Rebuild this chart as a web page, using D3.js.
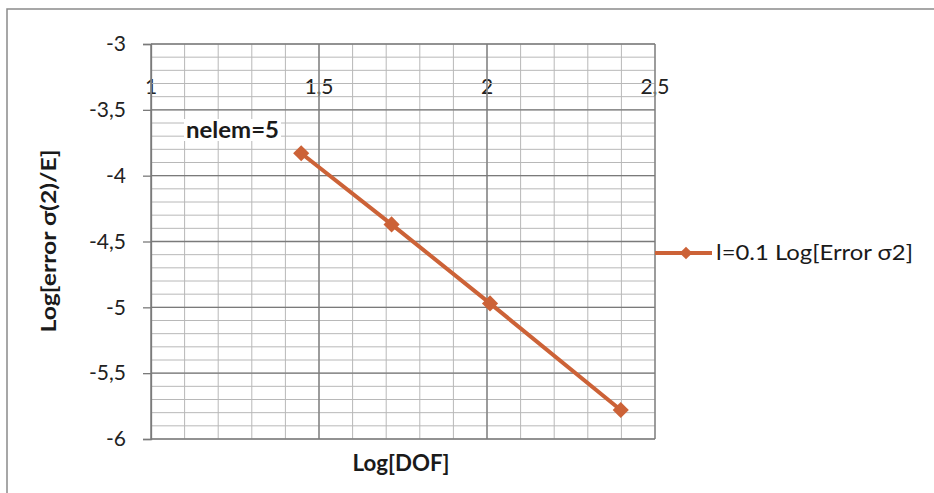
<!DOCTYPE html>
<html>
<head>
<meta charset="utf-8">
<script src="https://cdn.jsdelivr.net/npm/d3@7/dist/d3.min.js"></script>
<style>
  html, body { margin: 0; padding: 0; background: #fff; }
  svg { display: block; font-family: Lato, "Open Sans", sans-serif; }
</style>
</head>
<body>
<svg id="chart" width="934" height="493"></svg>
<script>
// Convergence data: log10 of degrees of freedom vs log10 of relative error
const logDOF = [1.447, 1.716, 2.009, 2.398];
const logError = [-3.83, -4.37, -4.97, -5.78];
const seriesName = "l=0.1 Log[Error σ2]";
const xTickValues = [1, 1.5, 2, 2.5];
const yTickValues = [-3, -3.5, -4, -4.5, -5, -5.5, -6];
const annotation = "nelem=5";

const fmt = v => String(v).replace(".", ",");

const svg = d3.select("#chart");
const x = d3.scaleLinear().domain([1, 2.5]).range([151, 655]);
const y = d3.scaleLinear().domain([-6, -3]).range([439, 44]);

const seriesColor = "#cc6237";
const textColor = "#1a1a1a";

// chart border
svg.append("rect")
  .attr("x", 7).attr("y", 9).attr("width", 960).attr("height", 520)
  .attr("fill", "#fff").attr("stroke", "#8a8a8a").attr("stroke-width", 1.5);

// x tick labels sit inside the plot, under the grid
svg.append("g").selectAll("text").data(xTickValues).join("text")
  .attr("x", d => x(d)).attr("y", 94)
  .attr("text-anchor", "middle")
  .attr("font-size", 21).attr("fill", "#222")
  .text(fmt);

// minor grid every 0.1
const minorX = d3.range(10, 26).map(v => v / 10);
const minorY = d3.range(-60, -29).map(v => v / 10);
const grid = svg.append("g");
grid.selectAll(".mx").data(minorX).join("line")
  .attr("x1", d => x(d)).attr("x2", d => x(d))
  .attr("y1", y(-3)).attr("y2", y(-6))
  .attr("stroke", "#b8b8b8").attr("stroke-width", 1);
grid.selectAll(".my").data(minorY).join("line")
  .attr("x1", x(1)).attr("x2", x(2.5))
  .attr("y1", d => y(d)).attr("y2", d => y(d))
  .attr("stroke", "#b8b8b8").attr("stroke-width", 1);

// major grid
grid.selectAll(".Mx").data(xTickValues).join("line")
  .attr("x1", d => x(d)).attr("x2", d => x(d))
  .attr("y1", y(-3)).attr("y2", y(-6))
  .attr("stroke", "#7a7a7a").attr("stroke-width", 1.3);
grid.selectAll(".My").data(yTickValues).join("line")
  .attr("x1", x(1)).attr("x2", x(2.5))
  .attr("y1", d => y(d)).attr("y2", d => y(d))
  .attr("stroke", "#7a7a7a").attr("stroke-width", 1.3);

// y axis with outward ticks
const yAxis = d3.axisLeft(y).tickValues(yTickValues).tickSize(8).tickPadding(17).tickFormat(fmt);
const ya = svg.append("g").attr("transform", `translate(${x(1)},0)`).call(yAxis);
ya.select(".domain").attr("stroke", "#7a7a7a").attr("stroke-width", 1.3);
ya.selectAll(".tick line").attr("stroke", "#7a7a7a").attr("stroke-width", 1.3);
ya.selectAll(".tick text").attr("font-size", 21).attr("fill", "#222")
  .attr("font-family", "Lato, 'Open Sans', sans-serif");

// annotation with a white backing
const ann = svg.append("g");
const annText = ann.append("text")
  .attr("x", 186).attr("y", 138)
  .attr("font-size", 22).attr("font-weight", "bold").attr("fill", textColor)
  .attr("textLength", 93).attr("lengthAdjust", "spacingAndGlyphs")
  .text(annotation);
const bb = annText.node().getBBox();
ann.insert("rect", "text")
  .attr("x", bb.x - 2).attr("y", bb.y + 3).attr("width", bb.width + 4).attr("height", bb.height - 5)
  .attr("fill", "#fff");

// series line and markers
const pts = logDOF.map((d, i) => [d, logError[i]]);
svg.append("path")
  .datum(pts)
  .attr("fill", "none")
  .attr("stroke", seriesColor).attr("stroke-width", 4)
  .attr("d", d3.line().x(d => x(d[0])).y(d => y(d[1])));
const diamond = d3.symbol().type(d3.symbolSquare).size(130);
svg.append("g").selectAll("path").data(pts).join("path")
  .attr("transform", d => `translate(${x(d[0])},${y(d[1])}) rotate(45)`)
  .attr("d", diamond)
  .attr("fill", seriesColor);

// axis titles
svg.append("text")
  .attr("x", 401).attr("y", 471)
  .attr("text-anchor", "middle")
  .attr("font-size", 22).attr("font-weight", "bold").attr("fill", textColor)
  .attr("textLength", 97).attr("lengthAdjust", "spacingAndGlyphs")
  .text("Log[DOF]");
svg.append("text")
  .attr("transform", "translate(56,241) rotate(-90)")
  .attr("text-anchor", "middle")
  .attr("font-size", 21).attr("font-weight", "bold").attr("fill", textColor)
  .attr("textLength", 183).attr("lengthAdjust", "spacingAndGlyphs")
  .text("Log[error σ(2)/E]");

// legend
const lg = svg.append("g");
lg.append("line")
  .attr("x1", 655).attr("x2", 712).attr("y1", 253).attr("y2", 253)
  .attr("stroke", seriesColor).attr("stroke-width", 4);
lg.append("path")
  .attr("transform", "translate(686,253) rotate(45)")
  .attr("d", d3.symbol().type(d3.symbolSquare).size(80))
  .attr("fill", seriesColor);
lg.append("text")
  .attr("x", 716).attr("y", 260)
  .attr("font-size", 21).attr("fill", textColor)
  .attr("textLength", 197).attr("lengthAdjust", "spacingAndGlyphs")
  .text(seriesName);
</script>
</body>
</html>
